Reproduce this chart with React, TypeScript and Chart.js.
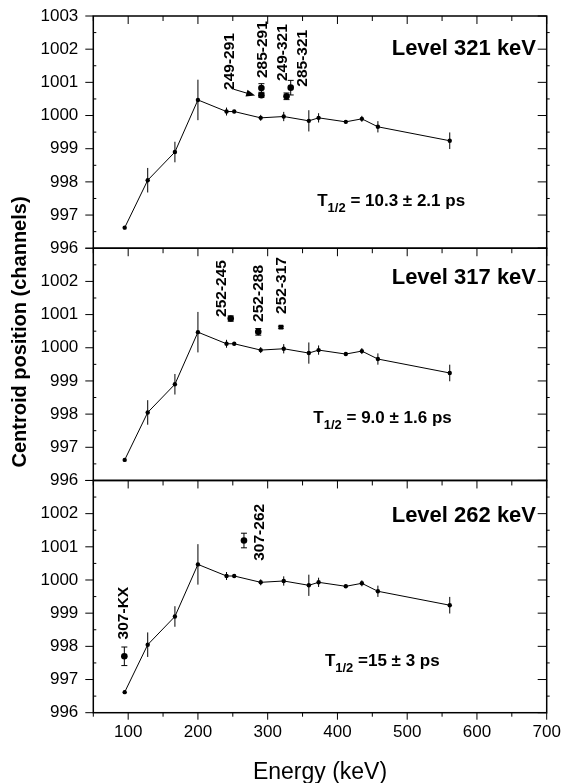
import React, { useEffect, useRef } from 'react';
import { Chart, registerables } from 'chart.js';

Chart.register(...registerables);

// ---- data ----
const energies = [95, 128, 167, 200, 241, 252, 290, 323, 359, 373, 412, 435, 458, 561];
const centroids = [996.62, 998.05, 998.9, 1000.47, 1000.12, 1000.12, 999.93, 999.97, 999.84, 999.93, 999.81, 999.9, 999.66, 999.24];
const centroidErrs = [0.05, 0.37, 0.31, 0.61, 0.12, 0.05, 0.09, 0.14, 0.32, 0.14, 0.05, 0.09, 0.17, 0.25];

const xTickValues = [100, 200, 300, 400, 500, 600, 700];
const yTickValues = [996, 997, 998, 999, 1000, 1001, 1002, 1003];

const levelNames = ['Level 321 keV', 'Level 317 keV', 'Level 262 keV'];
const halfLifeTexts = [' = 10.3 \u00b1 2.1 ps', ' = 9.0 \u00b1 1.6 ps', ' =15 \u00b1 3 ps'];

const lvl321X = [291, 291, 327, 333];
const lvl321Y = [1000.61, 1000.83, 1000.58, 1000.84];
const lvl321Err = [0.06, 0.13, 0.1, 0.22];
const lvl321Labels = ['249-291', '285-291', '249-321', '285-321'];

const lvl317X = [247, 286.5, 319];
const lvl317Y = [1000.88, 1000.48, 1000.62];
const lvl317Err = [0.08, 0.1, 0.03];
const lvl317Labels = ['252-245', '252-288', '252-317'];

const lvl262X = [94.5, 266];
const lvl262Y = [997.7, 1001.19];
const lvl262Err = [0.28, 0.22];
const lvl262Labels = ['307-KX', '307-262'];

// ---- annotation placement (data coordinates) ----
const panels = [
  {
    id: 'yTop', xs: lvl321X, ys: lvl321Y, errs: lvl321Err, labels: lvl321Labels,
    labelAt: [[246, 1000.77], [293, 1001.13], [321, 1001.04], [350.6, 1000.87]],
    levelAt: [684.7, 1001.82], halfAt: [371, 997.28], style: 'circle',
    arrow: [[251.7, 1000.79], [282, 1000.6]],
  },
  {
    id: 'yMid', xs: lvl317X, ys: lvl317Y, errs: lvl317Err, labels: lvl317Labels,
    labelAt: [[234, 1000.93], [287.7, 1000.78], [320.6, 1001.02]],
    levelAt: [684.7, 1001.91], halfAt: [365.4, 997.73], style: ['circle', 'circle', 'rect'],
    arrow: null,
  },
  {
    id: 'yBot', xs: lvl262X, ys: lvl262Y, errs: lvl262Err, labels: lvl262Labels,
    labelAt: [[93, 998.21], [289, 1000.58]],
    levelAt: [684.7, 1001.75], halfAt: [382, 997.42], style: 'circle',
    arrow: null,
  },
];

const FONT = '"Liberation Sans", Arial, Helvetica, sans-serif';

const errorBarPlugin = {
  id: 'errorBars',
  beforeDatasetsDraw(chart: any) {
    const ctx = chart.ctx;
    ctx.save();
    ctx.strokeStyle = '#000';
    ctx.lineWidth = 1;
    chart.data.datasets.forEach((ds: any) => {
      if (!ds.errs) return;
      const xs = chart.scales.x;
      const ys = chart.scales[ds.yAxisID];
      ds.data.forEach((p: any, i: number) => {
        const e = ds.errs[i];
        const px = xs.getPixelForValue(p.x);
        const y1 = ys.getPixelForValue(p.y + e);
        const y2 = ys.getPixelForValue(p.y - e);
        ctx.beginPath();
        ctx.moveTo(px, y1);
        ctx.lineTo(px, y2);
        if (ds.caps) {
          ctx.moveTo(px - 3, y1);
          ctx.lineTo(px + 3, y1);
          ctx.moveTo(px - 3, y2);
          ctx.lineTo(px + 3, y2);
        }
        ctx.stroke();
      });
    });
    ctx.restore();
  },
};

const framePlugin = {
  id: 'frames',
  afterDraw(chart: any) {
    const ctx = chart.ctx;
    const xs = chart.scales.x;
    const left = chart.chartArea.left;
    const right = chart.chartArea.right;
    ctx.save();
    ctx.strokeStyle = '#000';
    ctx.fillStyle = '#000';
    panels.forEach((p, pi) => {
      const ys = chart.scales[p.id];
      const top = ys.top;
      const bottom = ys.bottom;
      // ticks
      ctx.lineWidth = 1;
      ctx.beginPath();
      for (let v = 996; v <= 1003; v += 0.5) {
        const y = ys.getPixelForValue(v);
        const major = Number.isInteger(v);
        if (major) {
          ctx.moveTo(left - 8, y); ctx.lineTo(left, y);
          ctx.moveTo(right - 9, y); ctx.lineTo(right, y);
        } else {
          ctx.moveTo(left, y); ctx.lineTo(left + 3, y);
          ctx.moveTo(right, y); ctx.lineTo(right + 3, y);
        }
      }
      for (let v = 50; v <= 700; v += 50) {
        const x = xs.getPixelForValue(v);
        const major = v % 100 === 0;
        ctx.moveTo(x, top); ctx.lineTo(x, top + (major ? 8 : 5));
        if (pi === panels.length - 1) {
          ctx.moveTo(x, bottom); ctx.lineTo(x, bottom + (major ? 7 : 4));
        }
      }
      ctx.stroke();
      // frame
      ctx.lineWidth = 1.5;
      ctx.strokeRect(left, top, right - left, bottom - top);

      // rotated transition labels
      ctx.font = `bold 15.5px ${FONT}`;
      ctx.textAlign = 'left';
      ctx.textBaseline = 'middle';
      p.labels.forEach((t, i) => {
        const [lx, ly] = p.labelAt[i];
        ctx.save();
        ctx.translate(xs.getPixelForValue(lx), ys.getPixelForValue(ly));
        ctx.rotate(-Math.PI / 2);
        ctx.fillText(t, 0, 0);
        ctx.restore();
      });

      // arrow
      if (p.arrow) {
        const [a, b] = p.arrow;
        const x1 = xs.getPixelForValue(a[0]), y1 = ys.getPixelForValue(a[1]);
        const x2 = xs.getPixelForValue(b[0]), y2 = ys.getPixelForValue(b[1]);
        const ang = Math.atan2(y2 - y1, x2 - x1);
        ctx.lineWidth = 1;
        ctx.beginPath();
        ctx.moveTo(x1, y1);
        ctx.lineTo(x2 - 7 * Math.cos(ang), y2 - 7 * Math.sin(ang));
        ctx.stroke();
        ctx.beginPath();
        ctx.moveTo(x2, y2);
        ctx.lineTo(x2 - 9 * Math.cos(ang) + 3.5 * Math.sin(ang), y2 - 9 * Math.sin(ang) - 3.5 * Math.cos(ang));
        ctx.lineTo(x2 - 9 * Math.cos(ang) - 3.5 * Math.sin(ang), y2 - 9 * Math.sin(ang) + 3.5 * Math.cos(ang));
        ctx.closePath();
        ctx.fill();
      }

      // level name
      ctx.font = `bold 22px ${FONT}`;
      ctx.textAlign = 'right';
      ctx.textBaseline = 'alphabetic';
      ctx.fillText(levelNames[pi], xs.getPixelForValue(p.levelAt[0]), ys.getPixelForValue(p.levelAt[1]));

      // half-life
      let hx = xs.getPixelForValue(p.halfAt[0]);
      const hy = ys.getPixelForValue(p.halfAt[1]);
      ctx.textAlign = 'left';
      ctx.font = `bold 17px ${FONT}`;
      ctx.fillText('T', hx, hy);
      hx += ctx.measureText('T').width;
      ctx.font = `bold 13px ${FONT}`;
      ctx.fillText('1/2', hx, hy + 6);
      hx += ctx.measureText('1/2').width;
      ctx.font = `bold 17px ${FONT}`;
      ctx.fillText(halfLifeTexts[pi], hx, hy);
    });

    // axis titles
    ctx.font = `bold 20px ${FONT}`;
    ctx.textAlign = 'center';
    ctx.textBaseline = 'middle';
    ctx.save();
    ctx.translate(20, 332);
    ctx.rotate(-Math.PI / 2);
    ctx.fillText('Centroid position (channels)', 0, 0);
    ctx.restore();
    ctx.font = `23px ${FONT}`;
    ctx.fillText('Energy (keV)', (left + right) / 2, 773);
    ctx.restore();
  },
};

export default function App() {
  const ref = useRef<HTMLCanvasElement>(null);
  useEffect(() => {
    document.body.style.margin = '0';
    const canvas = ref.current;
    if (!canvas) return;
    Chart.defaults.font.family = FONT;
    Chart.defaults.color = '#000';

    const datasets: any[] = [];
    panels.forEach((p) => {
      datasets.push({
        type: 'scatter',
        yAxisID: p.id,
        showLine: true,
        data: energies.map((x, i) => ({ x, y: centroids[i] })),
        errs: centroidErrs,
        caps: false,
        borderColor: '#000',
        borderWidth: 1,
        backgroundColor: '#000',
        pointRadius: 2.2,
        pointBorderWidth: 0,
        pointBackgroundColor: '#000',
      });
      datasets.push({
        type: 'scatter',
        yAxisID: p.id,
        showLine: false,
        data: p.xs.map((x, i) => ({ x, y: p.ys[i] })),
        errs: p.errs,
        caps: true,
        pointStyle: p.style,
        pointRadius: 3.3,
        pointBorderWidth: 0,
        pointBackgroundColor: '#000',
        backgroundColor: '#000',
        borderColor: '#000',
      });
    });

    const yScale = (showTop: boolean) => ({
      type: 'linear',
      position: 'left',
      stack: 'panels',
      stackWeight: 1,
      min: 996,
      max: 1003,
      afterBuildTicks: (s: any) => {
        s.ticks = yTickValues.map((v) => ({ value: v }));
      },
      ticks: {
        font: { size: 17 },
        color: '#000',
        padding: 15,
        autoSkip: false,
        callback: (v: number) => (v === 1003 && !showTop ? '' : String(v)),
      },
      grid: { display: false, drawTicks: false },
      border: { display: false },
      afterFit: (s: any) => {
        s.width = 93.3;
        s.paddingTop = 0;
        s.paddingBottom = 0;
      },
    });

    const chart = new Chart(canvas, {
      type: 'scatter',
      data: { datasets },
      options: {
        animation: false,
        responsive: true,
        maintainAspectRatio: false,
        layout: { padding: { top: 16, right: 15.3, left: 0, bottom: 0 } },
        plugins: { legend: { display: false }, tooltip: { enabled: false } },
        scales: {
          x: {
            type: 'linear',
            position: 'bottom',
            min: 50,
            max: 700,
            afterBuildTicks: (s: any) => {
              s.ticks = xTickValues.map((v) => ({ value: v }));
            },
            ticks: { font: { size: 17 }, color: '#000', padding: 9, maxRotation: 0, autoSkip: false },
            grid: { display: false, drawTicks: false },
            border: { display: false },
            afterFit: (s: any) => {
              s.height = 70.3;
              s.paddingLeft = 0;
              s.paddingRight = 0;
            },
          },
          yBot: yScale(false),
          yMid: yScale(false),
          yTop: yScale(true),
        } as any,
      },
      plugins: [errorBarPlugin, framePlugin],
    } as any);
    return () => chart.destroy();
  }, []);

  return (
    <div style={{ width: 562, height: 783, position: 'relative', overflow: 'hidden' }}>
      <canvas ref={ref} />
    </div>
  );
}
